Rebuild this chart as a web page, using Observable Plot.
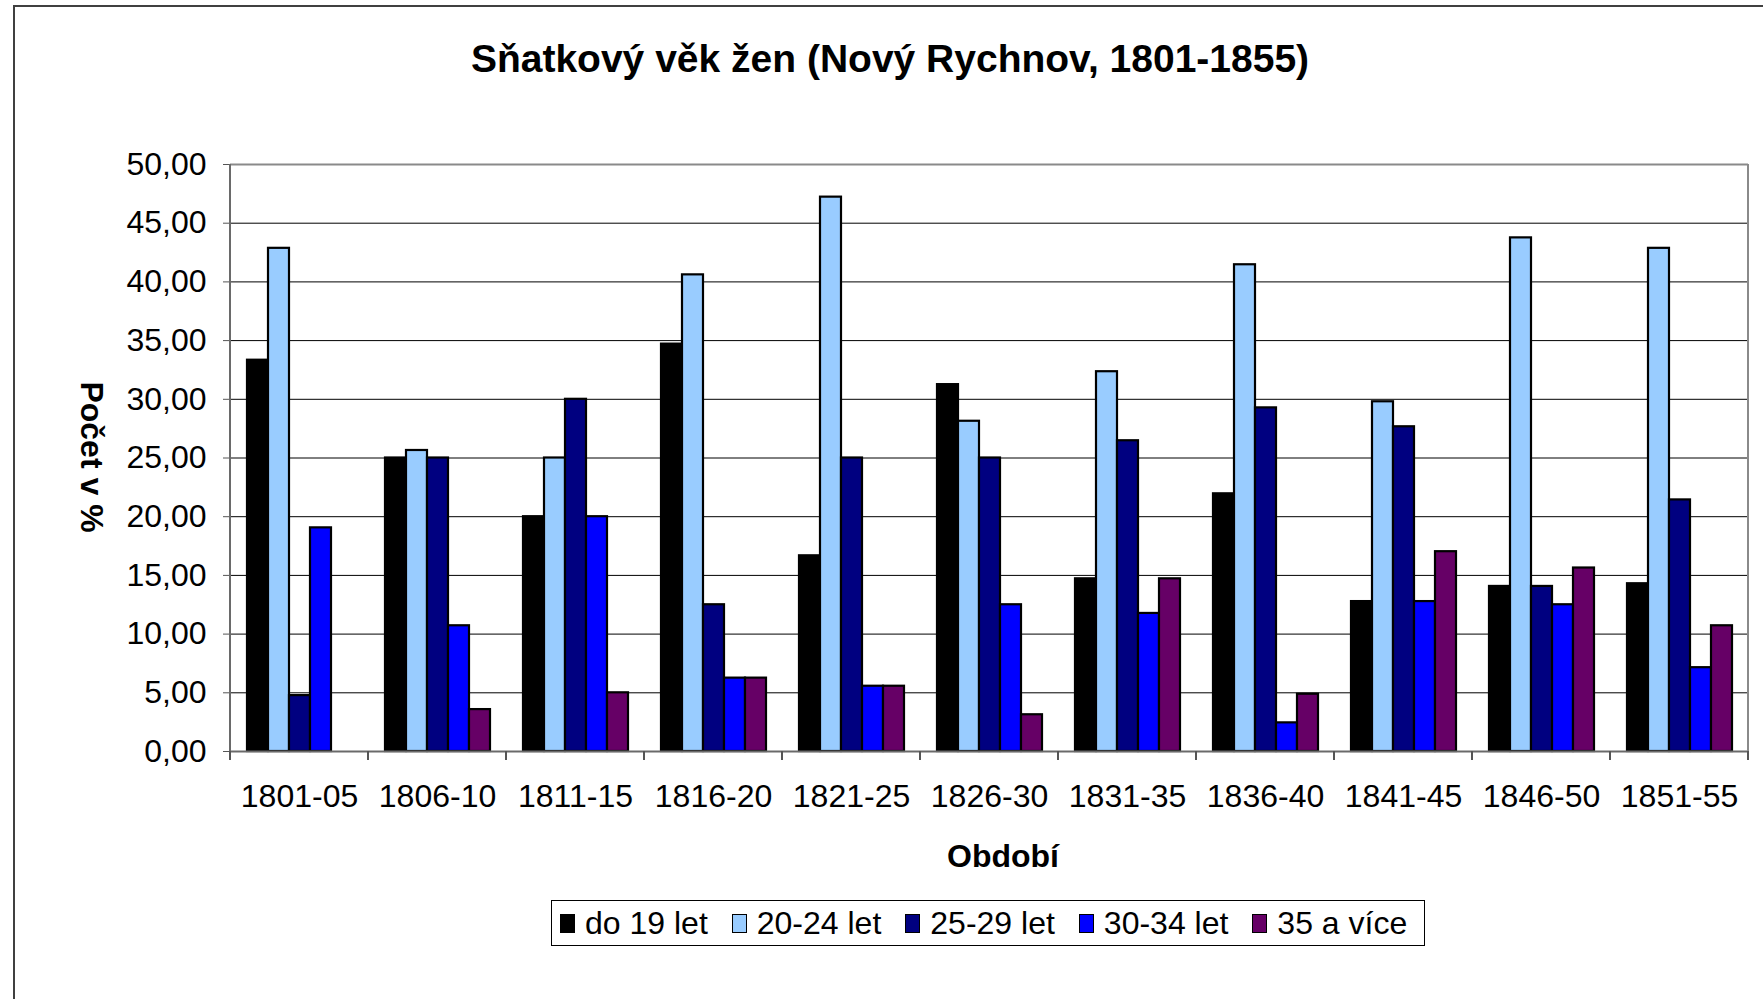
<!DOCTYPE html>
<html><head><meta charset="utf-8">
<script src="https://cdn.jsdelivr.net/npm/d3@7"></script>
<script src="https://cdn.jsdelivr.net/npm/@observablehq/plot@0.6"></script>
<style>
body{margin:0;background:#fff;font-family:"Liberation Sans",Arial,sans-serif;color:#000;}
#wrap{position:relative;width:1763px;height:999px;overflow:hidden;background:#fff;}
#border{position:absolute;left:13px;top:5px;width:1800px;height:1100px;border-left:2px solid #404040;border-top:2px solid #404040;}
#title{position:absolute;left:0;width:1780px;top:39px;text-align:center;font-weight:bold;font-size:39px;line-height:1;white-space:nowrap;}
#chart{position:absolute;left:0;top:0;}
#xlabel{position:absolute;left:853px;width:300px;top:840px;text-align:center;font-weight:bold;font-size:32px;line-height:1;}
#ylabel{position:absolute;left:-58px;top:437px;width:300px;height:40px;line-height:40px;text-align:center;font-weight:bold;font-size:32px;transform:rotate(90deg);white-space:nowrap;}
#legend{position:absolute;left:551px;top:900px;width:874px;height:46px;box-sizing:border-box;border:1.5px solid #000;display:flex;align-items:center;justify-content:flex-start;padding-left:8px;gap:24px;font-size:32px;background:#fff;}
.item{display:flex;align-items:center;white-space:nowrap;}
.sw{width:15px;height:19px;box-sizing:border-box;border:1.5px solid #000;margin-right:10px;}
</style></head>
<body>
<div id="wrap">
  <div id="border"></div>
  <div id="title">Sňatkový věk žen (Nový Rychnov, 1801-1855)</div>
  <div id="chart"></div>
  <div id="xlabel">Období</div>
  <div id="ylabel">Počet v %</div>
  <div id="legend"></div>
</div>
<script>
const periods = ["1801-05","1806-10","1811-15","1816-20","1821-25","1826-30","1831-35","1836-40","1841-45","1846-50","1851-55"];
const series = ["do 19 let","20-24 let","25-29 let","30-34 let","35 a více"];
const colors = ["#000000","#99CCFF","#000080","#0000FF","#660066"];
const do19 = [33.33, 25.00, 20.00, 34.70, 16.67, 31.25, 14.71, 21.95, 12.77, 14.06, 14.29];
const a2024 = [42.86, 25.64, 25.00, 40.60, 47.22, 28.13, 32.35, 41.46, 29.79, 43.75, 42.86];
const a2529 = [4.76, 25.00, 30.00, 12.50, 25.00, 25.00, 26.47, 29.27, 27.66, 14.06, 21.43];
const a3034 = [19.05, 10.71, 20.00, 6.25, 5.56, 12.50, 11.76, 2.44, 12.77, 12.50, 7.14];
const a35 = [0.00, 3.57, 5.00, 6.25, 5.56, 3.13, 14.71, 4.88, 17.02, 15.63, 10.71];
const yTicks = [0,5,10,15,20,25,30,35,40,45,50];

const values = [do19, a2024, a2529, a3034, a35];
const rows = periods.flatMap((p, i) => series.map((s, j) => ({period: p, series: s, value: values[j][i]})));

const loc = d3.formatLocale({decimal: ",", thousands: " ", grouping: [3], currency: ["", " Kč"]});
const fmt = loc.format(".2f");

const chart = Plot.plot({
  width: 1763, height: 830,
  marginTop: 164, marginBottom: 79, marginLeft: 228, marginRight: 14,
  style: {fontFamily: "Liberation Sans, Arial, sans-serif", fontSize: "32px", color: "#000", background: "transparent", overflow: "visible"},
  fx: {domain: periods, padding: 0, label: null},
  x: {domain: series, paddingInner: 0, paddingOuter: 0.75, axis: null},
  y: {domain: [0, 50], label: null},
  color: {domain: series, range: colors},
  marks: [
    Plot.gridY(yTicks.filter(t => t > 0 && t < 50), {stroke: "#000", strokeOpacity: 1, strokeWidth: 1}),
    Plot.ruleY([50], {stroke: "#8a8a8a", strokeWidth: 2}),
    Plot.barY(rows.filter(d => d.value > 0), {fx: "period", x: "series", y: "value", fill: "series", stroke: "#000", strokeWidth: 2.2}),
    Plot.ruleY([0], {stroke: "#6a6a6a", strokeWidth: 2}),
    Plot.axisY({ticks: yTicks, tickFormat: fmt, tickSize: 7, tickPadding: 17, label: null, stroke: "#555"}),
    Plot.axisFx({anchor: "bottom", tickSize: 0, tickPadding: 33, label: null})
  ]
});
document.getElementById("chart").appendChild(chart);

// plot-area edges and category-boundary ticks derived from the scales
const fx = chart.scale("fx"), y = chart.scale("y");
const y0 = y.apply(0), y50 = y.apply(50);
const bounds = periods.map(p => fx.apply(p));
bounds.push(fx.apply(periods[periods.length - 1]) + fx.bandwidth);
const svg = d3.select(chart);
svg.append("g").selectAll("line").data(bounds).join("line")
  .attr("x1", d => d).attr("x2", d => d).attr("y1", y0).attr("y2", y0 + 9)
  .attr("stroke", "#555").attr("stroke-width", 2);
svg.append("line").attr("x1", bounds[0]).attr("x2", bounds[0]).attr("y1", y50).attr("y2", y0)
  .attr("stroke", "#6a6a6a").attr("stroke-width", 2);
svg.append("line").attr("x1", bounds[bounds.length - 1]).attr("x2", bounds[bounds.length - 1]).attr("y1", y50).attr("y2", y0)
  .attr("stroke", "#8a8a8a").attr("stroke-width", 2);

// legend
const leg = d3.select("#legend");
series.forEach((s, i) => {
  const it = leg.append("div").attr("class", "item");
  it.append("div").attr("class", "sw").style("background", colors[i]);
  it.append("span").text(s);
});
</script>
</body></html>
